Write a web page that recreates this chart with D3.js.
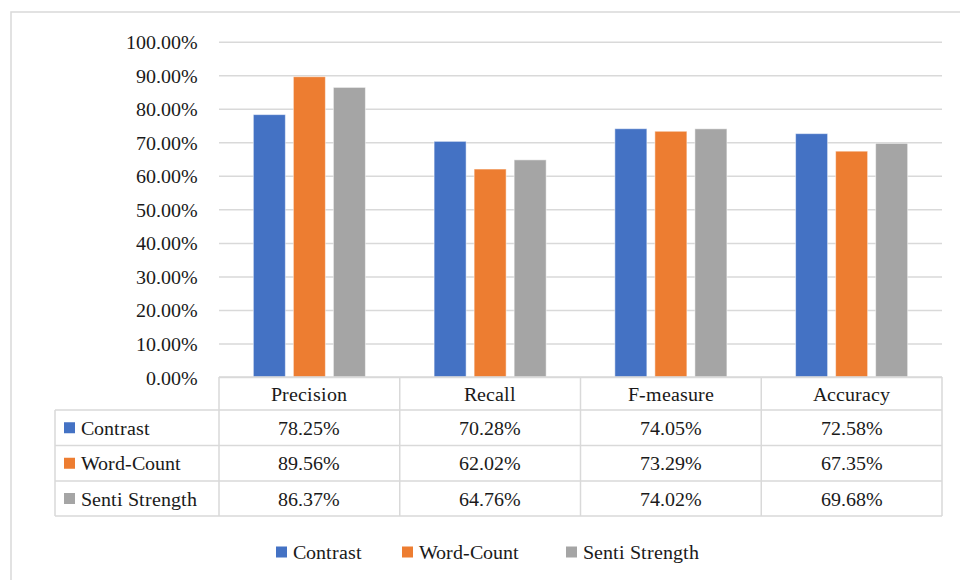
<!DOCTYPE html>
<html>
<head>
<meta charset="utf-8">
<script src="https://cdn.jsdelivr.net/npm/d3@7"></script>
<style>
  @font-face {
    font-family: "ChartSerif";
    src: local("Liberation Serif"), local("LiberationSerif"), local("LiberationSerif-Regular"), local("Times New Roman");
  }
</style>
</head>
<body style="margin:0;background:#fff">
<svg id="chart" width="960" height="580" style="display:block"></svg>
<script>
// Evaluation metrics for the three sentiment methods
const categories = ["Precision", "Recall", "F-measure", "Accuracy"];
const seriesNames = ["Contrast", "Word-Count", "Senti Strength"];
const contrastValues = [0.7825, 0.7028, 0.7405, 0.7258];
const wordCountValues = [0.8956, 0.6202, 0.7329, 0.6735];
const sentiStrengthValues = [0.8637, 0.6476, 0.7402, 0.6968];
const yTicks = [0, 0.1, 0.2, 0.3, 0.4, 0.5, 0.6, 0.7, 0.8, 0.9, 1.0];

const seriesValues = [contrastValues, wordCountValues, sentiStrengthValues];
const colors = ["#4472C4", "#ED7D31", "#A5A5A5"];
const gridColor = "#D9D9D9";
const textColor = "#1a1a1a";
const fontStack = "ChartSerif, 'Liberation Serif', Tinos, 'Times New Roman', serif";
const fmt = d3.format(".2%");

function styleText(sel) {
  return sel.style("font-family", fontStack)
    .style("font-size", "20px")
    .attr("fill", textColor);
}

function draw() {
  const svg = d3.select("#chart");

  // Plot area
  const plot = { left: 219, right: 942, top: 41.7, bottom: 377 };

  const y = d3.scaleLinear().domain([0, 1]).range([plot.bottom, plot.top]);
  const x0 = d3.scaleBand().domain(categories).range([plot.left, plot.right])
    .paddingInner(0.38).paddingOuter(0.19);
  const x1 = d3.scaleBand().domain(seriesNames).range([0, x0.bandwidth()])
    .paddingInner(0.2).paddingOuter(0);

  // Outer chart frame (runs off the right and bottom edges)
  svg.append("rect")
    .attr("x", 11).attr("y", 12).attr("width", 1000).attr("height", 1000)
    .attr("fill", "none").attr("stroke", gridColor).attr("stroke-width", 1.5);

  // Gridlines and tick labels
  const yAxis = d3.axisLeft(y).tickValues(yTicks).tickFormat(fmt)
    .tickSize(-(plot.right - plot.left)).tickPadding(21);
  const ga = svg.append("g").attr("transform", `translate(${plot.left},0)`).call(yAxis);
  ga.attr("font-family", null).attr("font-size", null);
  ga.select(".domain").remove();
  ga.selectAll(".tick line").attr("stroke", gridColor).attr("stroke-width", 1.5);
  styleText(ga.selectAll(".tick text")).attr("dy", "0.35em");

  // Bars
  const groups = svg.append("g").selectAll("g")
    .data(categories)
    .join("g")
    .attr("transform", d => `translate(${x0(d)},0)`);

  groups.selectAll("rect")
    .data((c, ci) => seriesNames.map((s, si) => ({ s, si, v: seriesValues[si][ci] })))
    .join("rect")
    .attr("x", d => x1(d.s))
    .attr("width", x1.bandwidth())
    .attr("y", d => y(d.v))
    .attr("height", d => y(0) - y(d.v))
    .attr("fill", d => colors[d.si])
    .attr("stroke", "#fff").attr("stroke-opacity", 0.5).attr("stroke-width", 1);

  // Data table
  const rowLines = [377, 410, 445.5, 481, 516];
  const tableLeft = 55;
  const tg = svg.append("g").attr("stroke", gridColor).attr("stroke-width", 1.5).attr("fill", "none");

  rowLines.forEach((ry, i) => {
    tg.append("line")
      .attr("x1", i === 0 ? plot.left : tableLeft).attr("x2", plot.right)
      .attr("y1", ry).attr("y2", ry);
  });
  tg.append("line").attr("x1", tableLeft).attr("x2", tableLeft)
    .attr("y1", rowLines[1]).attr("y2", rowLines[4]);
  const colEdges = [plot.left].concat(categories.map(c => x0(c) + x0.bandwidth() / 2 + x0.step() / 2));
  colEdges.forEach(cx => {
    tg.append("line").attr("x1", cx).attr("x2", cx)
      .attr("y1", rowLines[0]).attr("y2", rowLines[4]);
  });

  // header row: category names
  styleText(svg.append("g").selectAll("text")
    .data(categories)
    .join("text")
    .attr("x", d => x0(d) + x0.bandwidth() / 2)
    .attr("y", (rowLines[0] + rowLines[1]) / 2)
    .attr("dy", "0.35em")
    .attr("text-anchor", "middle")
    .text(d => d));

  // series rows
  seriesNames.forEach((s, si) => {
    const cy = (rowLines[si + 1] + rowLines[si + 2]) / 2;
    svg.append("rect")
      .attr("x", 64).attr("y", cy - 5.5).attr("width", 11).attr("height", 11)
      .attr("fill", colors[si]);
    styleText(svg.append("text")
      .attr("x", 81).attr("y", cy).attr("dy", "0.35em")
      .text(s));
    styleText(svg.append("g").selectAll("text")
      .data(categories)
      .join("text")
      .attr("x", d => x0(d) + x0.bandwidth() / 2)
      .attr("y", cy).attr("dy", "0.35em")
      .attr("text-anchor", "middle")
      .text((d, ci) => fmt(seriesValues[si][ci])));
  });

  // Legend
  const legendY = 552;
  const legendX = [276, 402, 566];
  seriesNames.forEach((s, si) => {
    svg.append("rect")
      .attr("x", legendX[si]).attr("y", legendY - 5.5).attr("width", 11).attr("height", 11)
      .attr("fill", colors[si]);
    styleText(svg.append("text")
      .attr("x", legendX[si] + 17).attr("y", legendY).attr("dy", "0.35em")
      .text(s));
  });
}

draw();
</script>
</body>
</html>
